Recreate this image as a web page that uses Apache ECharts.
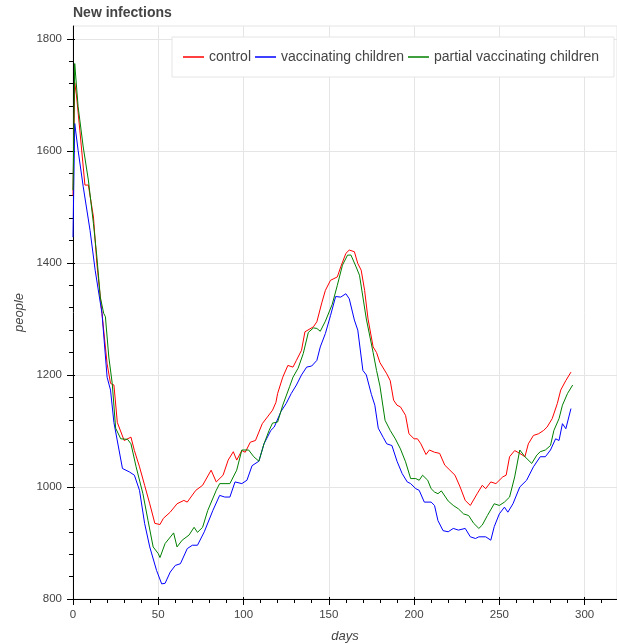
<!DOCTYPE html>
<html>
<head>
<meta charset="utf-8">
<script src="https://cdn.jsdelivr.net/npm/echarts@6.0.0/dist/echarts.min.js"></script>
<style>
html, body { margin: 0; padding: 0; background: #ffffff; }
#chart { width: 617px; height: 644px; }
</style>
</head>
<body>
<div id="chart"></div>
<script>
const titleText = 'New infections';
const seriesNames = ['control', 'vaccinating children', 'partial vaccinating children'];
const xName = 'days';
const yName = 'people';

const xTicks = [0, 50, 100, 150, 200, 250, 300];
const xMinorTicks = [10, 20, 30, 40, 60, 70, 80, 90, 110, 120, 130, 140, 160, 170, 180, 190, 210, 220, 230, 240, 260, 270, 280, 290, 310];
const yTicks = [800, 1000, 1200, 1400, 1600, 1800];
const yMinorTicks = [840, 880, 920, 960, 1040, 1080, 1120, 1160, 1240, 1280, 1320, 1360, 1440, 1480, 1520, 1560, 1640, 1680, 1720, 1760];

const controlDays = [0,1,2,4,7,9,12,14,17,20,22,24,26,30,34,36,39,42,45,48,51,53,57,61,65,67,72,76,81,84,88,91,94,96,99,101,104,107,109,111,114,117,119,120,123,126,129,131,134,136,137,141,143,146,148,151,153,155,157,160,162,165,167,169,171,173,176,178,180,184,186,188,190,192,195,197,200,202,204,207,209,212,215,218,221,224,227,230,233,237,240,242,245,248,252,254,256,259,262,265,267,270,273,276,278,281,284,286,289,292];
const controlValues = [1520,1722,1700,1637,1539,1539,1482,1399,1310,1220,1185,1182,1115,1083,1089,1065,1036,1003,970,935,933,944,955,970,976,973,994,1003,1030,1009,1021,1048,1063,1048,1065,1062,1080,1083,1098,1113,1125,1137,1151,1167,1196,1217,1214,1226,1244,1277,1280,1286,1295,1330,1351,1369,1372,1375,1393,1417,1423,1420,1399,1387,1351,1300,1250,1240,1222,1202,1190,1155,1146,1143,1128,1095,1086,1086,1077,1058,1066,1062,1060,1039,1030,1021,1000,976,967,988,1003,997,1009,1006,1018,1021,1054,1065,1060,1054,1077,1092,1095,1101,1107,1122,1149,1173,1190,1205];

const vaccDays = [0,1,3,6,10,13,17,20,22,24,29,33,36,39,42,45,49,52,54,57,60,63,67,70,73,77,82,86,89,92,95,99,102,105,109,112,116,118,122,125,128,131,134,137,140,143,145,148,151,154,157,160,162,165,167,170,172,175,177,179,182,184,187,190,193,196,198,201,203,206,210,212,214,217,220,223,226,230,233,236,238,242,245,247,250,253,255,258,262,266,270,274,277,280,283,285,287,289,292];
const vaccValues = [1446,1649,1601,1536,1458,1387,1310,1196,1173,1115,1033,1027,1021,994,935,893,851,827,828,848,860,863,890,896,896,920,958,985,982,982,1009,1006,1012,1038,1046,1077,1101,1107,1135,1149,1167,1182,1200,1214,1216,1226,1250,1274,1306,1340,1339,1345,1336,1298,1280,1208,1200,1165,1146,1105,1088,1077,1074,1046,1024,1009,1006,997,994,973,973,967,940,922,920,926,923,926,911,908,911,911,905,929,952,964,955,970,1000,1012,1036,1054,1054,1066,1086,1083,1113,1104,1140];

const partialDays = [0,1,3,6,9,12,14,16,18,19,21,23,25,28,32,34,37,41,44,47,50,51,54,59,61,64,68,71,73,76,79,84,86,92,96,99,103,106,109,112,115,117,120,123,127,129,132,135,138,141,143,145,148,152,155,158,161,163,166,168,172,176,178,180,183,186,189,192,195,198,201,203,205,208,210,212,214,216,220,223,226,229,232,235,238,240,243,247,250,253,256,259,262,265,269,272,274,277,280,282,285,287,290,293];
const partialValues = [1530,1756,1679,1607,1548,1470,1411,1339,1310,1304,1232,1185,1105,1086,1085,1077,1036,988,940,893,881,874,899,918,893,905,914,928,919,928,958,994,1006,1006,1030,1066,1066,1054,1046,1077,1101,1114,1116,1146,1179,1196,1212,1238,1276,1284,1283,1278,1296,1326,1360,1396,1414,1414,1393,1378,1300,1240,1208,1180,1119,1101,1086,1068,1045,1015,1015,1012,1021,1012,997,991,988,993,975,967,961,952,949,935,926,932,949,970,967,973,982,1018,1066,1054,1042,1057,1063,1066,1074,1101,1122,1146,1167,1182];

const xMin = 0, xMax = 319;
const yMin = 800, yMax = 1823;

function pairs(xs, ys) { return xs.map((x, i) => [x, ys[i]]); }

const FONT = '"Liberation Sans", Arial, Helvetica, sans-serif';
const TXT = '#444444';
const GRIDC = '#e5e5e5';

const chart = echarts.init(document.getElementById('chart'), null, { renderer: 'canvas' });

const plain = v => String(v);

// helper for tick-only overlay axes (minor ticks and inner part of major ticks)
function tickAxis(kind, values, len, inside) {
  return {
    type: 'value',
    min: kind === 'x' ? xMin : yMin,
    max: kind === 'x' ? xMax : yMax,
    position: kind === 'x' ? 'bottom' : 'left',
    axisLine: { show: false },
    axisTick: { show: true, inside: inside, customValues: values, length: len, lineStyle: { color: '#000', width: 1 } },
    axisLabel: { show: false },
    splitLine: { show: false }
  };
}

const option = {
  animation: false,
  backgroundColor: '#ffffff',
  textStyle: { fontFamily: FONT },
  title: {
    text: titleText,
    left: 73, top: 6, padding: 0,
    textStyle: { fontFamily: FONT, fontSize: 14, fontWeight: 'bold', color: TXT }
  },
  legend: {
    data: seriesNames,
    left: 172, top: 37,
    orient: 'horizontal',
    padding: [13, 15, 13, 11],
    itemGap: 4,
    itemWidth: 21,
    itemHeight: 1.5,
    icon: 'rect',
    backgroundColor: '#ffffff',
    borderColor: GRIDC,
    borderWidth: 1,
    textStyle: { fontFamily: FONT, fontSize: 14, color: TXT }
  },
  grid: {
    left: 73, right: 0, top: 26, bottom: 45,
    containLabel: false,
    outerBoundsMode: 'none',
    show: true, borderColor: GRIDC, borderWidth: 1, backgroundColor: 'transparent'
  },
  xAxis: [
    {
      type: 'value', min: xMin, max: xMax, position: 'bottom',
      name: xName, nameLocation: 'middle', nameGap: 31,
      nameTextStyle: { fontFamily: FONT, fontSize: 13, fontStyle: 'italic', color: TXT },
      axisLine: { show: true, onZero: false, lineStyle: { color: '#000', width: 1 } },
      axisTick: { show: true, customValues: xTicks, length: 6, inside: false, lineStyle: { color: '#000', width: 1 } },
      axisLabel: { customValues: xTicks, formatter: plain, margin: 10, fontFamily: FONT, fontSize: 11.5, color: TXT },
      splitLine: { show: true, lineStyle: { color: GRIDC, width: 1 } }
    },
    tickAxis('x', xMinorTicks, 4, false),
    tickAxis('x', xTicks, 2, true)
  ],
  yAxis: [
    {
      type: 'value', min: yMin, max: yMax, position: 'left',
      name: yName, nameLocation: 'middle', nameGap: 40,
      nameTextStyle: { fontFamily: FONT, fontSize: 13, fontStyle: 'italic', color: TXT },
      axisLine: { show: true, onZero: false, lineStyle: { color: '#000', width: 1 } },
      axisTick: { show: true, customValues: yTicks, length: 6, lineStyle: { color: '#000', width: 1 } },
      axisLabel: { customValues: yTicks, formatter: plain, margin: 11, fontFamily: FONT, fontSize: 11.5, color: TXT },
      splitLine: { show: true, lineStyle: { color: GRIDC, width: 1 } }
    },
    tickAxis('y', yMinorTicks, 4, false),
    tickAxis('y', yTicks, 2, true)
  ],
  series: [
    { name: seriesNames[0], type: 'line', xAxisIndex: 0, yAxisIndex: 0, symbol: 'none', showSymbol: false,
      color: '#ff0000', lineStyle: { color: '#ff0000', width: 1 }, data: pairs(controlDays, controlValues) },
    { name: seriesNames[1], type: 'line', xAxisIndex: 0, yAxisIndex: 0, symbol: 'none', showSymbol: false,
      color: '#0000ff', lineStyle: { color: '#0000ff', width: 1 }, data: pairs(vaccDays, vaccValues) },
    { name: seriesNames[2], type: 'line', xAxisIndex: 0, yAxisIndex: 0, symbol: 'none', showSymbol: false,
      color: '#008000', lineStyle: { color: '#008000', width: 1 }, data: pairs(partialDays, partialValues) }
  ]
};

chart.setOption(option);
</script>
</body>
</html>
